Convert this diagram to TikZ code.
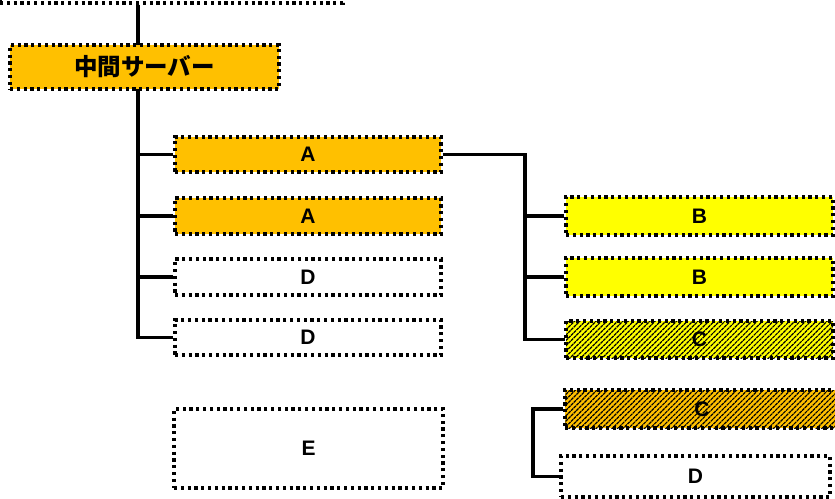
\documentclass[tikz,border=0pt]{standalone}
\usepackage{fontspec}
\setmainfont{Liberation Sans}
\newfontfamily\jp{Noto Sans CJK JP}
\usetikzlibrary{patterns.meta,backgrounds}
\definecolor{orng}{HTML}{FFC000}
\definecolor{yell}{HTML}{FFFF00}
\tikzset{
  box/.style={draw=black, line width=3.2pt, dash pattern=on 3.2pt off 3.6pt, rectangle,
    inner sep=0pt, font=\fontsize{21}{21}\selectfont\bfseries, text=black},
  wbox/.style={box, fill=white},
  obox/.style={box, fill=orng},
  ybox/.style={box, fill=yell},
  hatchbox/.style={box, preaction={fill=#1},
    pattern={Lines[angle=45,distance=3.8pt,line width=1.2pt]}, pattern color=black},
  conn/.style={line width=3.4pt, line join=miter, black},
}
\begin{document}
\begin{tikzpicture}[x=1pt,y=-1pt]
\useasboundingbox (0,0) rectangle (835,498);
\begin{scope}
\clip (0,0) rectangle (835,498);
\node[wbox, minimum width=343pt, minimum height=46pt] (top) at (171.5,-20) {};
\node[obox, minimum width=269pt, minimum height=44pt, font=\fontsize{23.5}{23.5}\selectfont\jp\bfseries] (srv) at (144.5,67) {中間サーバー};
\node[obox, minimum width=266pt, minimum height=35pt] (a1) at (308,154.5) {A};
\node[obox, minimum width=266pt, minimum height=36pt] (a2) at (308,216) {A};
\node[wbox, minimum width=266pt, minimum height=36pt] (d1) at (308,277) {D};
\node[wbox, minimum width=266pt, minimum height=35pt] (d2) at (308,337.5) {D};
\node[wbox, minimum width=269pt, minimum height=79pt] (e) at (308.5,448.5) {E};
\node[ybox, minimum width=267pt, minimum height=38pt] (b1) at (699.5,216) {B};
\node[ybox, minimum width=267pt, minimum height=38pt] (b2) at (699.5,277) {B};
\node[hatchbox=yell, minimum width=267pt, minimum height=37pt] (c1) at (699.5,339.5) {C};
\node[hatchbox=orng, minimum width=274pt, minimum height=38pt] (c2) at (702,409) {C};
\node[wbox, minimum width=269pt, minimum height=41pt] (d3) at (695.5,476.5) {D};
\begin{scope}[on background layer]
\coordinate (t1) at (138,0);
\coordinate (r1) at (525,0);
\coordinate (r2) at (533,0);
\draw[conn] (top.south -| t1) -- (d2.west -| t1) -- (d2.west);
\draw[conn] (a1.west -| t1) -- (a1.west);
\draw[conn] (a2.west -| t1) -- (a2.west);
\draw[conn] (d1.west -| t1) -- (d1.west);
\draw[conn] (a1.east) -- (a1.east -| r1) -- (c1.west -| r1) -- (c1.west);
\draw[conn] (b1.west -| r1) -- (b1.west);
\draw[conn] (b2.west -| r1) -- (b2.west);
\draw[conn] (c2.west) -- (c2.west -| r2) -- (d3.west -| r2) -- (d3.west);
\end{scope}
\end{scope}
\end{tikzpicture}
\end{document}
